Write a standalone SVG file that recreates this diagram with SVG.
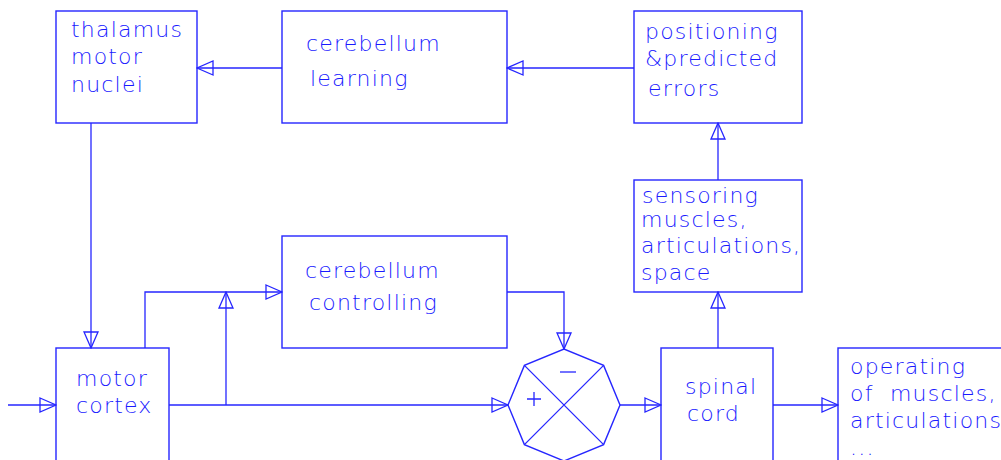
<svg xmlns="http://www.w3.org/2000/svg" width="1001" height="460" viewBox="0 0 1001 460">
<defs>
<marker id="arr" viewBox="-1 -8 18 16" markerWidth="18" markerHeight="16" refX="16" refY="0" orient="auto" markerUnits="userSpaceOnUse">
<path d="M0,-7 L16,0 L0,7 Z" fill="none" stroke="#2626ff" stroke-width="1.3"/>
</marker>
<style>
.box{fill:none;stroke:#2626ff;stroke-width:1.4}
.ln{fill:none;stroke:#2626ff;stroke-width:1.3}
text{font-family:"DejaVu Sans",sans-serif;font-size:22px;font-weight:200;fill:#1a1aff;letter-spacing:1.2px}
</style>
</defs>
<rect width="1001" height="460" fill="#fff"/>
<g id="connectors">
<path class="ln" d="M8,405 H56" marker-end="url(#arr)"/>
<path class="ln" d="M169,405 H508" marker-end="url(#arr)"/>
<path class="ln" d="M226,405 V292" marker-end="url(#arr)"/>
<path class="ln" d="M145,348 V292 H282" marker-end="url(#arr)"/>
<path class="ln" d="M507,292 H564 V349" marker-end="url(#arr)"/>
<path class="ln" d="M620,405 H661" marker-end="url(#arr)"/>
<path class="ln" d="M718,348 V292" marker-end="url(#arr)"/>
<path class="ln" d="M718,180 V123" marker-end="url(#arr)"/>
<path class="ln" d="M634,68 H507" marker-end="url(#arr)"/>
<path class="ln" d="M282,68 H197" marker-end="url(#arr)"/>
<path class="ln" d="M91,123 V348" marker-end="url(#arr)"/>
<path class="ln" d="M773,405 H838" marker-end="url(#arr)"/>
</g>
<g id="thalamus">
<rect class="box" x="56" y="11" width="141" height="112"/>
<text x="71" y="37">thalamus</text>
<text x="71" y="64">motor</text>
<text x="71" y="92">nuclei</text>
</g>
<g id="cerebellum-learning">
<rect class="box" x="282" y="11" width="225" height="112"/>
<text x="306" y="51">cerebellum</text>
<text x="310" y="86">learning</text>
</g>
<g id="positioning">
<rect class="box" x="634" y="11" width="168" height="112"/>
<text x="645" y="39">positioning</text>
<text x="645" y="66">&amp;predicted</text>
<text x="648" y="96">errors</text>
</g>
<g id="sensoring">
<rect class="box" x="634" y="180" width="168" height="112"/>
<text x="642" y="203">sensoring</text>
<text x="641" y="227">muscles,</text>
<text x="641" y="253">articulations,</text>
<text x="641" y="280">space</text>
</g>
<g id="cerebellum-controlling">
<rect class="box" x="282" y="236" width="225" height="112"/>
<text x="305" y="278">cerebellum</text>
<text x="309" y="310">controlling</text>
</g>
<g id="motor-cortex">
<rect class="box" x="56" y="348" width="113" height="120"/>
<text x="76" y="386">motor</text>
<text x="76" y="413">cortex</text>
</g>
<g id="comparator">
<polygon class="box" points="620,405 603.6,444.6 564,461 524.4,444.6 508,405 524.4,365.4 564,349 603.6,365.4"/>
<path class="ln" d="M524.4,365.4 L603.6,444.6 M603.6,365.4 L524.4,444.6"/>
<path class="ln" d="M560,372 H576"/>
<path class="ln" d="M527,399 H541 M534,392 V406"/>
</g>
<g id="spinal-cord">
<rect class="box" x="661" y="348" width="112" height="120"/>
<text x="685" y="394">spinal</text>
<text x="687" y="421">cord</text>
</g>
<g id="operating">
<rect class="box" x="838" y="348" width="180" height="120"/>
<text x="850" y="374">operating</text>
<text x="850" y="401" xml:space="preserve">of  muscles,</text>
<text x="850" y="428">articulations</text>
<text x="850" y="455">...</text>
</g>
</svg>
